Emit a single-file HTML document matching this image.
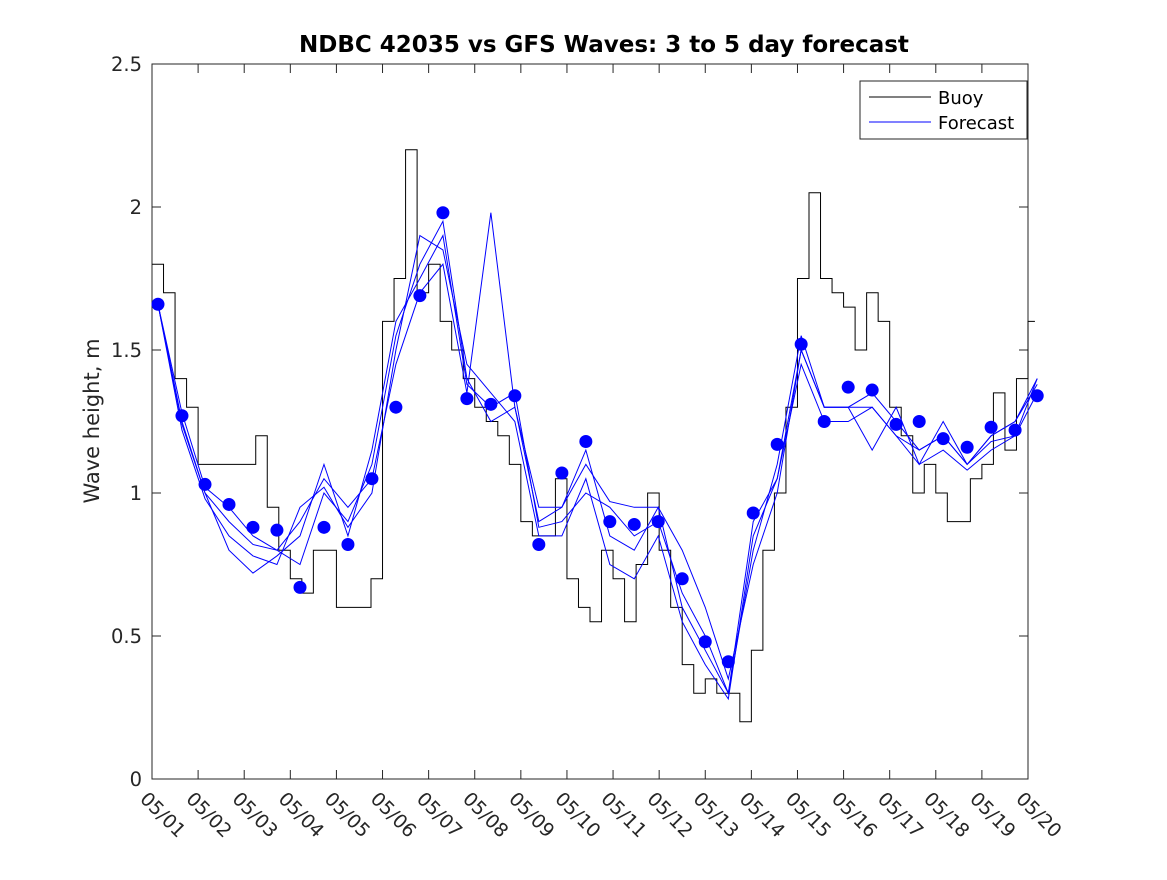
<!DOCTYPE html>
<html><head><meta charset="utf-8"><style>
body{margin:0;background:#fff}
svg text{font-family:"DejaVu Sans","Liberation Sans",sans-serif;fill:#262626}
</style></head><body>
<svg id="chart" width="1167" height="875">
<rect width="1167" height="875" fill="#fff"/>
<text x="604" y="52" text-anchor="middle" font-size="23" font-weight="bold" style="fill:#000">NDBC 42035 vs GFS Waves: 3 to 5 day forecast</text>
<text transform="translate(99,421) rotate(-90)" text-anchor="middle" font-size="21">Wave height, m</text>
<g id="axes"></g>
<g id="plot"></g>
<g>
<rect x="860" y="81" width="167" height="58" fill="#fff" stroke="#262626" stroke-width="1"/>
<line x1="869" y1="97" x2="931" y2="97" stroke="#000"/>
<text x="938" y="104" font-size="18" style="fill:#000">Buoy</text>
<line x1="869" y1="122" x2="931" y2="122" stroke="#00f"/>
<text x="938" y="129" font-size="18" style="fill:#000">Forecast</text>
</g>
</svg>
<script>
const dayLabels=["05/01","05/02","05/03","05/04","05/05","05/06","05/07","05/08","05/09","05/10","05/11","05/12","05/13","05/14","05/15","05/16","05/17","05/18","05/19","05/20"];
const yTicks=[0,0.5,1,1.5,2,2.5];
const buoyStep=0.25;
const buoy=[1.8,1.7,1.4,1.3,1.1,1.1,1.1,1.1,1.1,1.2,0.95,0.8,0.7,0.65,0.8,0.8,0.6,0.6,0.6,0.7,1.6,1.75,2.2,1.7,1.8,1.6,1.5,1.4,1.3,1.25,1.2,1.1,0.9,0.85,0.85,1.05,0.7,0.6,0.55,0.8,0.7,0.55,0.75,1.0,0.8,0.6,0.4,0.3,0.35,0.3,0.3,0.2,0.45,0.8,1.0,1.3,1.75,2.05,1.75,1.7,1.65,1.5,1.7,1.6,1.3,1.2,1.0,1.1,1.0,0.9,0.9,1.05,1.1,1.35,1.15,1.4,1.6];
const dotDays=[0.13,0.65,1.15,1.67,2.19,2.71,3.21,3.73,4.25,4.77,5.29,5.81,6.31,6.83,7.35,7.87,8.39,8.89,9.41,9.93,10.46,10.98,11.5,12.0,12.5,13.04,13.56,14.08,14.58,15.1,15.62,16.14,16.64,17.16,17.68,18.2,18.72,19.2];
const dotVals=[1.66,1.27,1.03,0.96,0.88,0.87,0.67,0.88,0.82,1.05,1.30,1.69,1.98,1.33,1.31,1.34,0.82,1.07,1.18,0.90,0.89,0.90,0.70,0.48,0.41,0.93,1.17,1.52,1.25,1.37,1.36,1.24,1.25,1.19,1.16,1.23,1.22,1.34];
const fcA=[1.66,1.25,1.0,0.9,0.82,0.8,0.75,1.0,0.9,1.1,1.55,1.8,1.95,1.4,1.25,1.3,0.9,0.95,1.15,0.85,0.8,0.95,0.6,0.45,0.3,0.8,1.1,1.55,1.3,1.3,1.35,1.25,1.15,1.2,1.1,1.2,1.25,1.38];
const fcB=[1.66,1.22,0.98,0.85,0.78,0.75,0.95,1.02,0.88,1.0,1.5,1.9,1.85,1.45,1.35,1.25,0.85,0.85,1.05,0.75,0.7,0.85,0.55,0.4,0.28,0.85,1.05,1.45,1.25,1.25,1.3,1.2,1.1,1.15,1.08,1.15,1.2,1.35];
const fcC=[1.66,1.28,1.02,0.95,0.85,0.8,0.9,1.05,0.95,1.05,1.45,1.7,1.8,1.35,1.98,1.3,0.95,0.95,1.1,0.97,0.95,0.95,0.8,0.6,0.35,0.75,1.0,1.5,1.3,1.3,1.3,1.2,1.15,1.2,1.1,1.2,1.25,1.4];
const fcD=[1.66,1.24,1.0,0.8,0.72,0.78,0.85,1.1,0.85,1.15,1.6,1.75,1.9,1.38,1.3,1.35,0.88,0.9,1.0,0.95,0.85,0.9,0.65,0.5,0.3,0.9,1.05,1.5,1.3,1.3,1.15,1.3,1.1,1.25,1.1,1.18,1.2,1.4];

const X0=152,X1=1028,Y0=779,Y1=64;
const xs=d=>X0+(X1-X0)*d/19;
const ys=v=>Y0-(Y0-Y1)*v/2.5;
const NS="http://www.w3.org/2000/svg";
function mk(tag,attrs,parent){const e=document.createElementNS(NS,tag);for(const k in attrs)e.setAttribute(k,attrs[k]);parent.appendChild(e);return e;}
const axes=document.getElementById('axes'),plot=document.getElementById('plot');
const box=mk('rect',{x:X0,y:Y1,width:X1-X0,height:Y0-Y1,fill:'none',stroke:'#262626','stroke-width':1},axes);


dayLabels.forEach((l,i)=>{
  const x=xs(i);
  const t1=mk('line',{x1:x,y1:Y0,x2:x,y2:Y0-9,stroke:'#262626'},axes);
  
  
  const t2=mk('line',{x1:x,y1:Y1,x2:x,y2:Y1+9,stroke:'#262626'},axes);
  
  
  const tx=mk('text',{x:0,y:0,'font-size':19,transform:`translate(${x-13},${Y0+21}) rotate(45)`},axes);
  tx.textContent=l;
  
  
});
yTicks.forEach(v=>{
  const y=ys(v);
  const t=mk('line',{x1:X0,y1:y,x2:X0+9,y2:y,stroke:'#262626'},axes);
  
  
  const t2=mk('line',{x1:X1,y1:y,x2:X1-9,y2:y,stroke:'#262626'},axes);
  
  
  const tx=mk('text',{x:X0-10,y:y+7,'font-size':19.5,'text-anchor':'end'},axes);
  tx.textContent=String(v);
  
  
});
let d='';
buoy.forEach((v,i)=>{const x=xs(i*buoyStep),y=ys(v);d+=(i?`L${x},${ys(buoy[i-1])}L${x},${y}`:`M${x},${y}`);});
d+=`L${xs(buoy.length*buoyStep-0.1)},${ys(buoy[buoy.length-1])}`;
const bp=mk('path',{d:d,fill:'none',stroke:'#000','stroke-width':1},plot);


[fcA,fcB,fcC,fcD].forEach((arr,k)=>{
  const p=mk('path',{d:arr.map((v,i)=>(i?'L':'M')+xs(dotDays[i])+','+ys(v)).join(''),fill:'none',stroke:'#00f','stroke-width':1},plot);
  
  
});
dotVals.forEach((v,i)=>{
  const c=mk('circle',{cx:xs(dotDays[i]),cy:ys(v),r:6.5,fill:'#00f'},plot);
  
  
});
</script>
</body></html>
